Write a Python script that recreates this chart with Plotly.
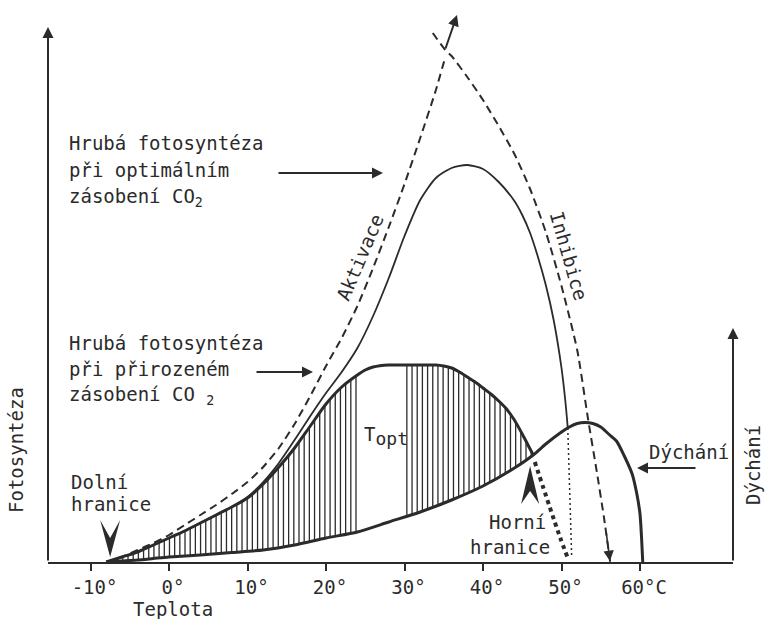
import numpy as np
import plotly.graph_objects as go

# ---------------- data (temperature in °C, relative rate) ----------------
tick_vals = [-10, 0, 10, 20, 30, 40, 50, 60]
tick_text = ["-10°", "0°", "10°", "20°", "30°", "40°", "50°", "60°C"]

# gross photosynthesis, natural CO2 supply (thick)
t_natural = [-8, -6, -4, -2, 0, 2, 4, 6, 8, 10, 12, 14, 16, 18, 20, 22, 24, 25, 26, 28,
             30, 32, 34, 35, 36, 37, 38, 39, 40, 41, 42, 43, 44, 45, 46, 46.4]
natural = [0, 5, 10, 17, 24, 31, 39, 47, 55, 64, 78, 95, 114, 136, 158, 175, 187, 192, 195, 197,
           197, 197, 197, 196, 194, 190, 185, 180, 174, 168, 161, 153, 142, 128, 113, 107]

# gross photosynthesis, optimal CO2 supply (thin)
t_optimal = [-8, -4, 0, 4, 8, 10, 12, 14, 16, 18, 20, 22, 24, 26, 28, 30, 32, 34, 36, 38,
             40, 42, 44, 45, 46, 47, 48, 49, 50, 50.5, 50.8]
optimal = [0, 10, 24, 39, 55, 65, 80, 99, 122, 146, 169, 190, 214, 246, 284, 326, 362, 384, 394, 397,
           393, 380, 361, 347, 329, 305, 277, 242, 194, 160, 134]

# respiration (thick)
t_resp = [-8, -6, -4, -2, 0, 4, 8, 12, 16, 20, 24, 28, 32, 36, 40, 44, 46.4, 48, 50, 51,
          52, 53, 54, 55, 56, 57, 58, 59, 59.6, 60, 60.2, 60.35]
resp = [0, 1, 2, 3.5, 5, 7, 9.5, 12, 17, 24, 30, 40, 50, 62, 76, 94, 107, 118, 130, 135,
        138.5, 139.5, 138.5, 135, 128, 121, 106, 88, 68, 48, 24, 0]

# activation (dashed)
t_activation = [-8, -6, -4, -2, 0, 2, 4, 6, 8, 10, 12, 14, 16, 18, 20, 22, 24, 26, 28, 30, 32, 34, 35.2]
activation = [0, 5, 12, 19, 27, 37, 47, 57, 68, 80, 95, 114, 138, 166, 196, 224, 256, 294, 335, 378, 424, 472, 505]

# inhibition (dashed)
t_inhibition = [33.6, 35.2, 36, 38, 40, 42, 44, 46, 48, 50, 52, 53.4, 54.5, 55.4, 56.2]
inhibition = [529, 512, 506, 485, 462, 436, 408, 373, 330, 276, 212, 142, 90, 45, 0]

# upper limit (heavy dots) and fine dotted drop
t_upper = [46.6, 48.5, 49.8, 50.8]
upper = [100, 55, 25, 4]
t_drop = [50.8, 51.3]
drop = [134, 4]

# limits marked with chevrons (temperature, level)
lower_limit = (-7.5, 5)
upper_limit = (46.0, 96)

# hatched net-photosynthesis spans
hatch_spans = [(-7.2, 24.0), (30.3, 46.2)]
hatch_step = 0.66

# ---------------- layout geometry ----------------
W, H = 766, 619
ML, MR, MT, MB = 48, 33, 27, 57
PW, PH = W - ML - MR, H - MT - MB
X0 = -15.414
X1 = 71.847
INK = "#2b2b2b"
FONT = "DejaVu Sans Mono"
FS = 19


def fx(px):
    return (px - ML) / PW


def fy(py):
    return (H - MB - py) / PH


fig = go.Figure()

# hatching
hx, hy = [], []
for a, b in hatch_spans:
    for t in np.arange(a, b + 1e-9, hatch_step):
        lo = float(np.interp(t, t_resp, resp))
        hi = float(np.interp(t, t_natural, natural))
        hx += [t, t, None]
        hy += [lo, hi, None]
fig.add_trace(go.Scatter(x=hx, y=hy, mode="lines", line=dict(color=INK, width=1.3),
                         hoverinfo="skip", showlegend=False))

dash = "8px,5px"
fig.add_trace(go.Scatter(x=t_activation, y=activation, mode="lines",
                         line=dict(color=INK, width=2, dash=dash, shape="spline", smoothing=0.6),
                         showlegend=False))
fig.add_trace(go.Scatter(x=t_inhibition, y=inhibition, mode="lines",
                         line=dict(color=INK, width=2, dash=dash, shape="spline", smoothing=0.6),
                         showlegend=False))
fig.add_trace(go.Scatter(x=t_optimal, y=optimal, mode="lines",
                         line=dict(color=INK, width=1.8, shape="spline", smoothing=0.7),
                         showlegend=False))
fig.add_trace(go.Scatter(x=t_natural, y=natural, mode="lines",
                         line=dict(color=INK, width=3, shape="spline", smoothing=0.7),
                         showlegend=False))
fig.add_trace(go.Scatter(x=t_resp, y=resp, mode="lines",
                         line=dict(color=INK, width=3, shape="spline", smoothing=0.7),
                         showlegend=False))
fig.add_trace(go.Scatter(x=t_upper, y=upper, mode="lines",
                         line=dict(color=INK, width=4, dash="4px,4px", shape="spline"),
                         showlegend=False))
fig.add_trace(go.Scatter(x=t_drop, y=drop, mode="lines",
                         line=dict(color=INK, width=1.5, dash="2px,3px"),
                         showlegend=False))

ann = []


def txt(text, px, py, anchor="left", angle=0, size=FS):
    ann.append(dict(text=text, x=fx(px), y=fy(py), xref="paper", yref="paper",
                    xanchor=anchor, yanchor="middle", showarrow=False, textangle=angle,
                    font=dict(family=FONT, size=size, color=INK)))


def arrow(hx_, hy_, dx, dy, head=2, width=2, size=1.2):
    ann.append(dict(text="", x=fx(hx_), y=fy(hy_), xref="paper", yref="paper",
                    ax=dx, ay=dy, showarrow=True, arrowhead=head, arrowwidth=width,
                    arrowsize=size, arrowcolor=INK, standoff=0))


# vertical axes with arrows
arrow(ML, 27, 0, 535, head=2, width=2, size=1.1)
arrow(733, 328, 0, 234, head=2, width=2, size=1.1)

# label arrows
arrow(383, 173, -106, 0, head=2, width=2, size=1.1)
arrow(313, 372, -58, 0, head=2, width=2, size=1.1)
arrow(637, 468, 60, 0, head=2, width=2, size=1.1)

# curve arrows (top of activation, end of inhibition)
arrow(457, 15, -12, 35, head=2, width=2, size=1.1)
arrow(610, 561, -4, -30, head=2, width=1.6, size=1.3)

# chevron markers for the lower and upper temperature limits (pixel-sized glyphs)
shapes = [
    dict(type="path", xref="x", yref="y", xsizemode="pixel", ysizemode="pixel",
         xanchor=lower_limit[0], yanchor=lower_limit[1],
         path="M0,0 L-10,37 L0,19 L10,37 Z", fillcolor=INK, line=dict(width=0)),
    dict(type="path", xref="x", yref="y", xsizemode="pixel", ysizemode="pixel",
         xanchor=upper_limit[0], yanchor=upper_limit[1],
         path="M0,0 L-9,-38 L0,-25 L9,-38 Z", fillcolor=INK, line=dict(width=0)),
]

# labels
txt("Hrubá fotosyntéza", 67, 143)
txt("při optimálním", 67, 170)
txt("zásobení CO<sub>2</sub>", 67, 197)
txt("Hrubá fotosyntéza", 67, 343)
txt("při přirozeném", 67, 369)
txt("zásobení CO <sub>2</sub>", 67, 395)
txt("Dolní", 69, 482)
txt("hranice", 69, 504)
txt("Horní", 517, 522, anchor="center")
txt("hranice", 510, 547, anchor="center")
txt("T<sub><span style='font-size:18px'>opt</span></sub>", 386, 436, anchor="center")
txt("Dýchání", 647, 452)
txt("Aktivace", 360, 257, anchor="center", angle=-67)
txt("Inhibice", 569, 256, anchor="center", angle=74)
txt("Fotosyntéza", 16, 450, anchor="center", angle=-90)
txt("Dýchání", 753, 465, anchor="center", angle=-90)
txt("Teplota", 173, 609, anchor="center")

fig.update_layout(
    annotations=ann,
    shapes=shapes,
    width=W, height=H,
    margin=dict(l=ML, r=MR, t=MT, b=MB, pad=0),
    paper_bgcolor="white", plot_bgcolor="white",
    showlegend=False,
    xaxis=dict(range=[X0, X1], showgrid=False, zeroline=False, showline=True,
               linecolor=INK, linewidth=2, ticks="outside", ticklen=7, tickwidth=2,
               tickcolor=INK, tickvals=tick_vals, ticktext=tick_text,
               tickfont=dict(family=FONT, size=FS, color=INK), ticklabelshift=4,
               fixedrange=True),
    yaxis=dict(range=[0, 535], visible=False, fixedrange=True),
)

fig.write_html("out.html")
